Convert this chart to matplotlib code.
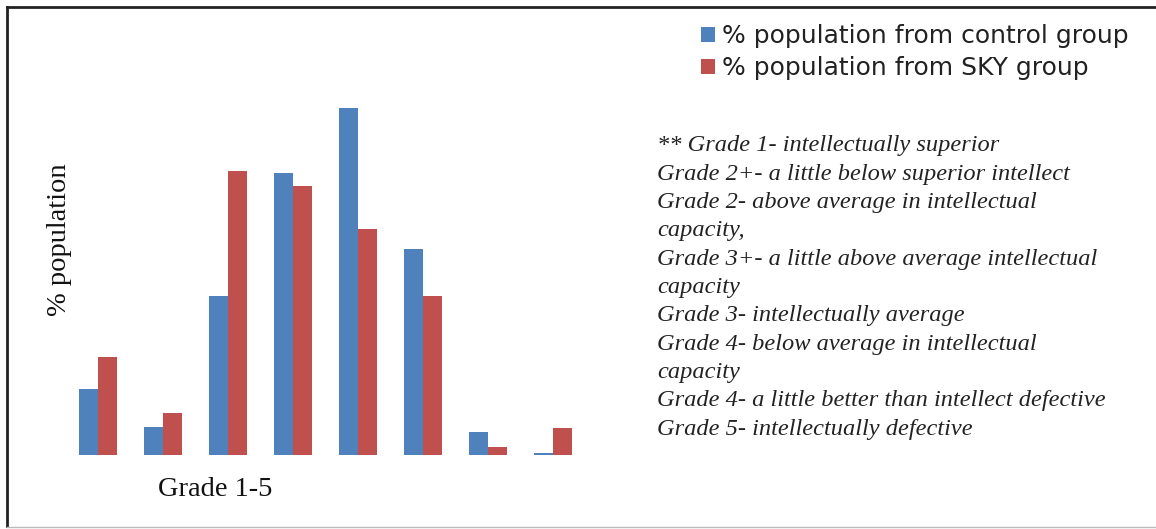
import matplotlib
matplotlib.use("Agg")
import matplotlib.pyplot as plt
import numpy as np
from matplotlib.lines import Line2D

grades = ["1", "2+", "2", "3+", "3", "4", "4-", "5"]
control_pct = [5.9, 2.5, 14.3, 25.3, 31.2, 18.5, 2.1, 0.2]
sky_pct = [8.8, 3.8, 25.5, 24.2, 20.3, 14.3, 0.7, 2.4]
series_labels = ["% population from control group", "% population from SKY group"]
notes = [
    "** Grade 1- intellectually superior",
    "Grade 2+- a little below superior intellect",
    "Grade 2- above average in intellectual",
    "capacity,",
    "Grade 3+- a little above average intellectual",
    "capacity",
    "Grade 3- intellectually average",
    "Grade 4- below average in intellectual",
    "capacity",
    "Grade 4- a little better than intellect defective",
    "Grade 5- intellectually defective",
]

W, H = 1156, 529
fig = plt.figure(figsize=(W / 100, H / 100), dpi=100)
fig.patch.set_facecolor("white")

# axes in pixel geometry
left_px, right_px = 60, 600
bottom_px, top_px = 455, 60
ax = fig.add_axes([left_px / W, 1 - bottom_px / H, (right_px - left_px) / W, (bottom_px - top_px) / H])
x = np.arange(len(grades))
bw = 0.285
ax.bar(x - bw / 2, control_pct, bw, color="#4F81BD", label=series_labels[0])
ax.bar(x + bw / 2, sky_pct, bw, color="#C0504D", label=series_labels[1])
c0, sp = 98, 65.0
ax.set_xlim((left_px - c0) / sp, (right_px - c0) / sp)
ax.set_ylim(0, (bottom_px - top_px) / 11.13)
ax.set_xticks([])
ax.set_yticks([])
for s in ax.spines.values():
    s.set_visible(False)
ax.patch.set_alpha(0)

fig.text(59 / W, 1 - 240 / H, "% population", rotation=90, ha="center", va="center",
         family="Liberation Serif", fontsize=20.5, color="#111111")
fig.text(215 / W, 1 - 489 / H, "Grade 1-5", ha="center", va="center",
         family="Liberation Serif", fontsize=20.5, color="#111111")

leg = fig.legend(loc="upper left", bbox_to_anchor=(701 / W, 1 - 24 / H), frameon=False,
                 prop={"family": "DejaVu Sans", "size": 18}, handlelength=0.55, handleheight=0.55,
                 handletextpad=0.3, labelspacing=0.32, borderaxespad=0, borderpad=0)
for t in leg.get_texts():
    t.set_color("#222222")

y0 = 146
for i, line in enumerate(notes):
    fig.text(657 / W, 1 - (y0 + i * 28.3) / H, line, ha="left", va="center",
             family="Liberation Serif", style="italic", fontsize=17.6, color="#222222")

# border
fig.add_artist(Line2D([7 / W, 1], [1 - 7 / H, 1 - 7 / H], color="#222222", lw=2, transform=fig.transFigure))
fig.add_artist(Line2D([7 / W, 7 / W], [1 - 7 / H, 1 - 526 / H], color="#222222", lw=2, transform=fig.transFigure))
fig.add_artist(Line2D([7 / W, 1], [1 - 527 / H, 1 - 527 / H], color="#bbbbbb", lw=1, transform=fig.transFigure))

fig.savefig("out.png", dpi=100)
